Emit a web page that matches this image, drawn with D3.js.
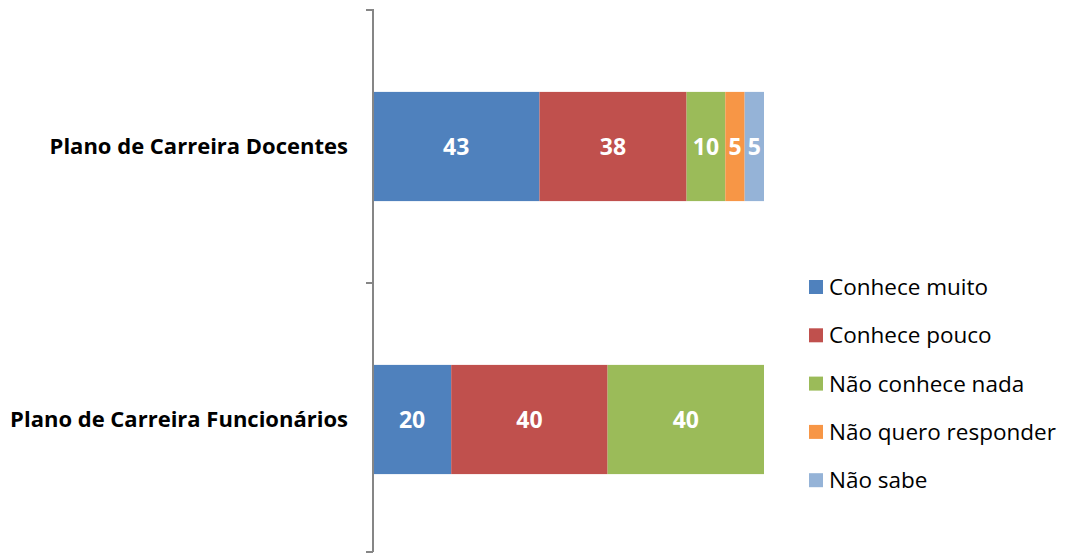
<!DOCTYPE html>
<html>
    <head>
        <style>
            body{ margin:0; background:#fff; }
            svg{ font-family: "Open Sans", sans-serif; }
        </style>
        <script src="https://d3js.org/d3.v7.min.js"></script>
    </head>
    <body>
        <script>
        const categories = ["Plano de Carreira Docentes", "Plano de Carreira Funcionários"];
        const seriesNames = ["Conhece muito", "Conhece pouco", "Não conhece nada", "Não quero responder", "Não sabe"];
        const conheceMuito = [43, 20];
        const conhecePouco = [38, 40];
        const naoConheceNada = [10, 40];
        const naoQueroResponder = [5, 0];
        const naoSabe = [5, 0];
        const colors = ["#4f81bd", "#c0504d", "#9bbb59", "#f79646", "#95b3d7"];

        const w = 1066, h = 556;
        const svg = d3.select("body").append("svg").attr("width", w).attr("height", h);

        const rows = categories.map((c, i) => ({
            cat: c,
            "Conhece muito": conheceMuito[i],
            "Conhece pouco": conhecePouco[i],
            "Não conhece nada": naoConheceNada[i],
            "Não quero responder": naoQueroResponder[i],
            "Não sabe": naoSabe[i]
        }));
        const stacked = d3.stack().keys(seriesNames).offset(d3.stackOffsetExpand)(rows);

        const x = d3.scaleLinear().domain([0, 1]).range([373, 764]);
        const y = d3.scaleBand().domain(categories).range([10, 556]).paddingInner(0.6).paddingOuter(0.3);
        const color = d3.scaleOrdinal().domain(seriesNames).range(colors);

        const layer = svg.selectAll("g.layer")
            .data(stacked)
            .enter().append("g")
            .attr("class", "layer")
            .attr("fill", d => color(d.key));

        layer.selectAll("rect")
            .data(d => d)
            .enter().append("rect")
            .attr("x", d => x(d[0]))
            .attr("y", d => y(d.data.cat))
            .attr("width", d => x(d[1]) - x(d[0]))
            .attr("height", y.bandwidth());

        layer.selectAll("text")
            .data(d => d.map(v => ({v: v, key: d.key})))
            .enter()
            .filter(d => d.v.data[d.key] > 0)
            .append("text")
            .attr("x", d => (x(d.v[0]) + x(d.v[1])) / 2)
            .attr("y", d => y(d.v.data.cat) + y.bandwidth() / 2)
            .attr("dy", "0.36em")
            .attr("text-anchor", "middle")
            .attr("fill", "#fff")
            .style("font-weight", "bold")
            .style("font-size", "23px")
            .text(d => d.v.data[d.key]);

        // axis
        const yAxis = svg.append("g").attr("stroke", "#868686").attr("stroke-width", 2);
        yAxis.append("line").attr("x1", 373).attr("x2", 373).attr("y1", 9).attr("y2", 552);
        const tickYs = [10, (y(categories[0]) + y.bandwidth() + y(categories[1])) / 2, 552];
        yAxis.selectAll("line.tick").data(tickYs).enter().append("line")
            .attr("class", "tick")
            .attr("x1", 366).attr("x2", 373)
            .attr("y1", d => d).attr("y2", d => d);

        svg.selectAll("text.cat")
            .data(categories)
            .enter().append("text")
            .attr("class", "cat")
            .attr("x", 348)
            .attr("y", d => y(d) + y.bandwidth() / 2)
            .attr("dy", "0.36em")
            .attr("text-anchor", "end")
            .style("font-weight", "bold")
            .style("font-size", "22px")
            .text(d => d);

        const legend = svg.append("g").selectAll("g")
            .data(seriesNames)
            .enter().append("g")
            .attr("transform", (d, i) => `translate(809, ${287 + i * 48.3})`);
        legend.append("rect").attr("x", 0).attr("y", -7).attr("width", 14).attr("height", 14).attr("fill", d => color(d));
        legend.append("text").attr("x", 20).attr("dy", "0.36em").style("font-size", "22.5px").attr("fill", "#000").text(d => d);
        </script>
    </body>
</html>
